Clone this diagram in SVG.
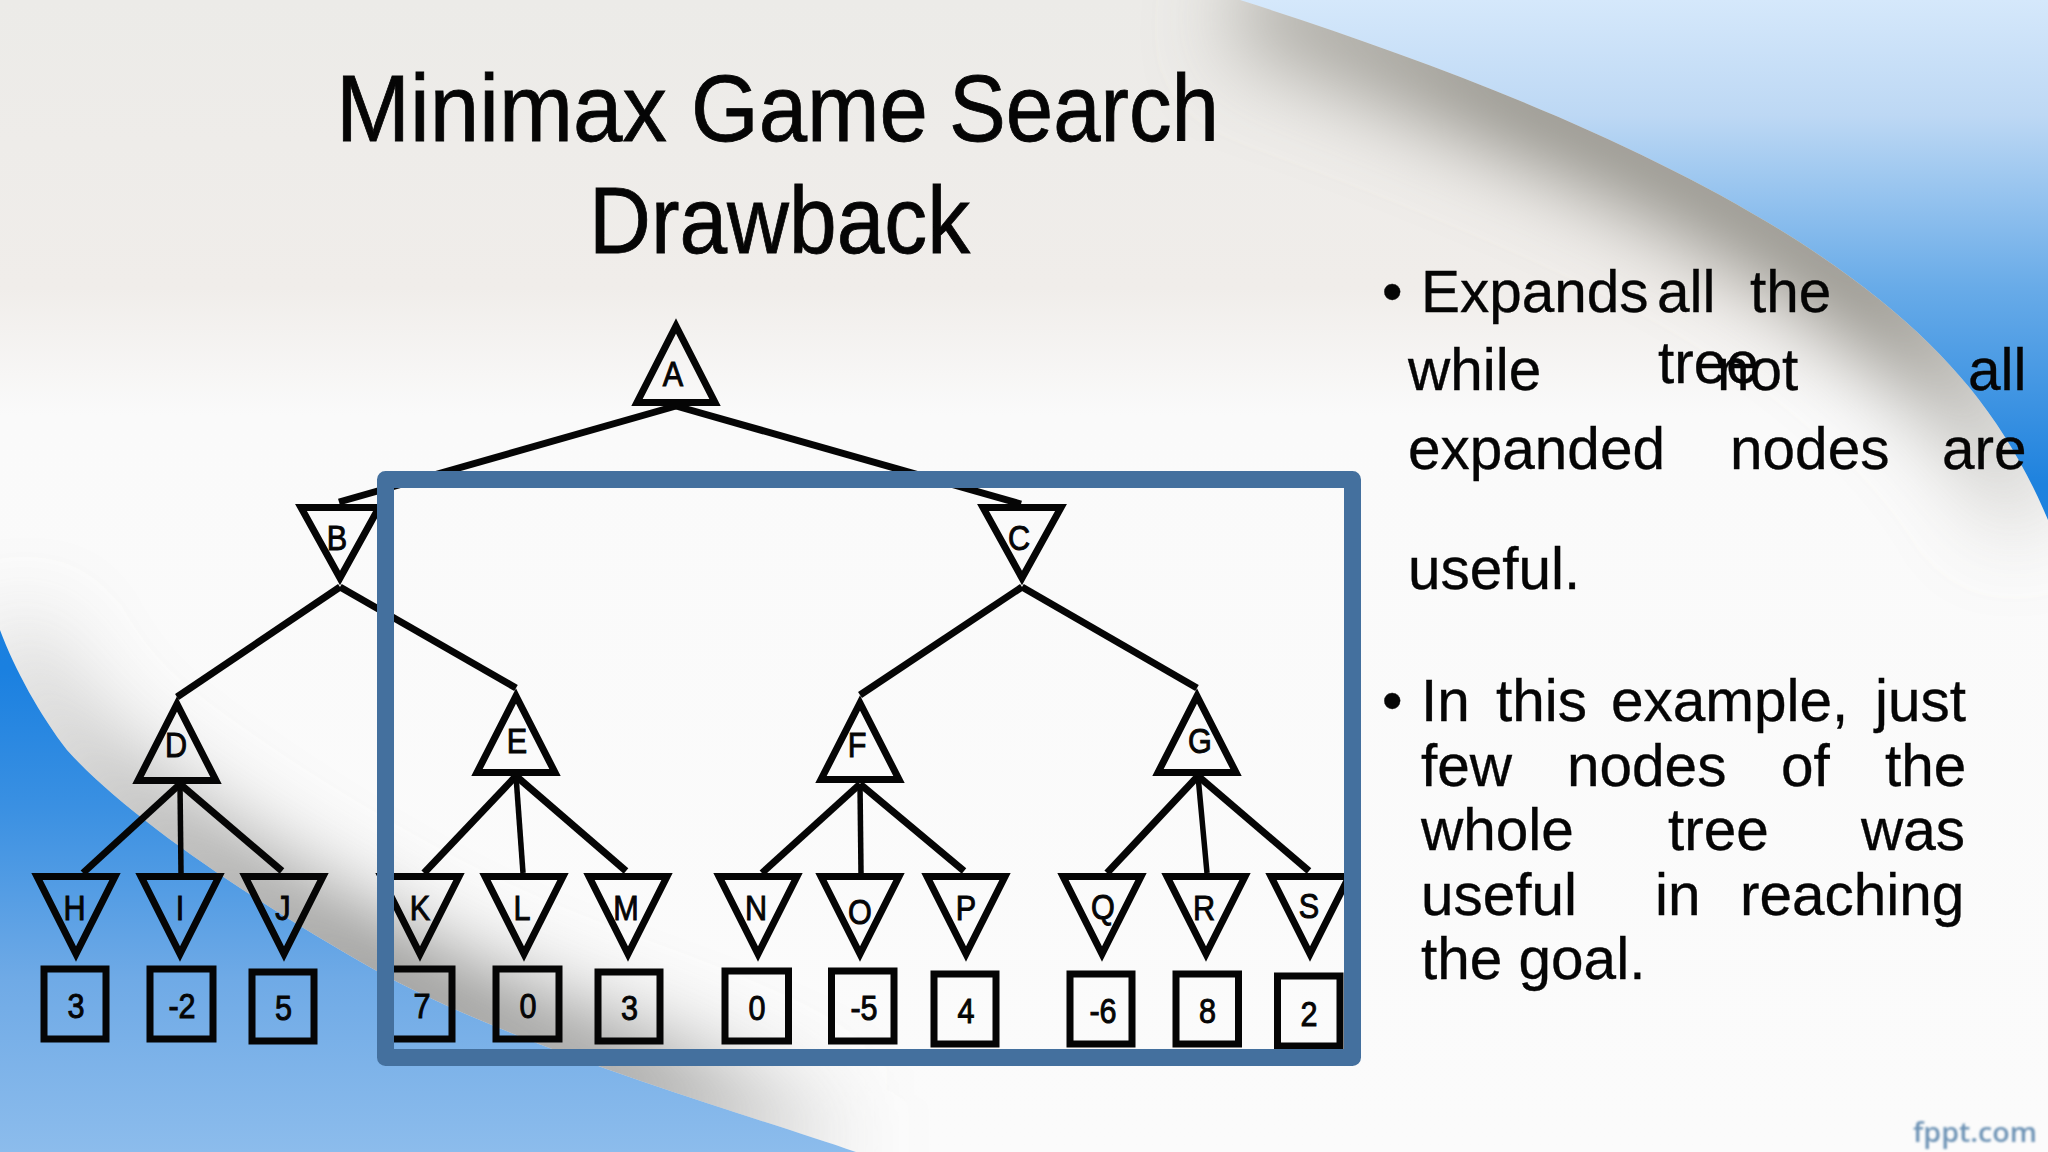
<svg xmlns="http://www.w3.org/2000/svg" xmlns:xlink="http://www.w3.org/1999/xlink" width="2048" height="1152" viewBox="0 0 2048 1152">
<style>
text{font-family:"Liberation Sans",Arial,sans-serif;fill:#050505}
.title{font-size:95px;stroke:#050505;stroke-width:.8}
.body{font-size:60px;stroke:#050505;stroke-width:.35}
.lbl{font-size:36px;text-anchor:middle;stroke:#050505;stroke-width:1}
.tri{fill:none;stroke:#050505;stroke-width:7;stroke-linejoin:miter;stroke-miterlimit:10}
.leaf{fill:none;stroke:#050505;stroke-width:7}
.edge{stroke:#050505;stroke-width:7;fill:none;stroke-linecap:butt}
.thin{stroke-width:5.500}
</style>
<defs>
<linearGradient id="sky" x1="0" y1="0" x2="0" y2="1">
<stop offset="0" stop-color="#d5e8fb"/><stop offset=".1" stop-color="#bdd8f4"/><stop offset=".25" stop-color="#68abe8"/><stop offset=".42" stop-color="#1e82de"/><stop offset=".58" stop-color="#1a80e0"/><stop offset=".7" stop-color="#3a90e2"/><stop offset=".85" stop-color="#6faae6"/><stop offset="1" stop-color="#8cbcec"/>
</linearGradient>
<linearGradient id="paper" x1="0" y1="0" x2="0" y2="1152" gradientUnits="userSpaceOnUse">
<stop offset="0" stop-color="#ecebe8"/><stop offset=".25" stop-color="#f0edea"/><stop offset=".36" stop-color="#fafafa"/><stop offset="1" stop-color="#fbfbfb"/>
</linearGradient>
<linearGradient id="shadeR" x1="1220" y1="0" x2="2048" y2="0" gradientUnits="userSpaceOnUse">
<stop offset="0" stop-color="#8f8d85" stop-opacity=".55"/><stop offset=".35" stop-color="#8f8d85" stop-opacity="1"/><stop offset=".8" stop-color="#8f8d85" stop-opacity="1"/><stop offset="1" stop-color="#8f8d85" stop-opacity=".15"/>
</linearGradient>
<linearGradient id="shadeL" x1="0" y1="0" x2="860" y2="0" gradientUnits="userSpaceOnUse">
<stop offset="0" stop-color="#8a8a88" stop-opacity=".2"/><stop offset=".2" stop-color="#8a8a88" stop-opacity=".7"/><stop offset=".45" stop-color="#8a8a88" stop-opacity="1"/><stop offset=".75" stop-color="#8a8a88" stop-opacity=".85"/><stop offset="1" stop-color="#8a8a88" stop-opacity="0"/>
</linearGradient>
<filter id="soft" x="-30%" y="-30%" width="160%" height="160%"><feGaussianBlur stdDeviation="42"/></filter>
<filter id="softer" x="-10%" y="-30%" width="120%" height="160%"><feGaussianBlur stdDeviation=".8"/></filter>
<clipPath id="paperClip"><path d="M0,0L1240,0C1460,70 1720,170 1880,300C1960,365 2010,430 2048,520L2048,1152L856,1152C750,1115 520,1050 375,970C260,905 130,820 67,750C40,715 15,670 0,630Z"/></clipPath>
<polygon id="down" class="tri" points="-39,3.500 39,3.500 0,81"/>
<polygon id="downS" class="tri" points="-39,3.500 39,3.500 0,74"/>
<polygon id="up" class="tri" points="0,8 39,84.500 -39,84.500"/>
</defs>

<g id="background">
<rect width="2048" height="1152" fill="url(#sky)"/>
<path d="M0,0L1240,0C1460,70 1720,170 1880,300C1960,365 2010,430 2048,520L2048,1152L856,1152C750,1115 520,1050 375,970C260,905 130,820 67,750C40,715 15,670 0,630Z" fill="url(#paper)"/>
<g clip-path="url(#paperClip)">
<path d="M1240,0C1460,70 1720,170 1880,300C1960,365 2010,430 2048,520" fill="none" stroke="url(#shadeR)" stroke-width="100" filter="url(#soft)"/>
<path d="M860,1152C750,1115 520,1050 375,970C260,905 130,820 67,750C40,715 15,670 0,630" fill="none" stroke="url(#shadeL)" stroke-width="90" filter="url(#soft)"/>
</g>
</g>

<g id="title">
<text class="title" x="336" y="141" textLength="331" lengthAdjust="spacingAndGlyphs">Minimax</text>
<text class="title" x="691" y="141" textLength="237" lengthAdjust="spacingAndGlyphs">Game</text>
<text class="title" x="949" y="141" textLength="270" lengthAdjust="spacingAndGlyphs">Search</text>
<text class="title" x="589" y="253" textLength="381" lengthAdjust="spacingAndGlyphs">Drawback</text>
</g>

<g id="connectors">
<path class="edge" d="M676,406L339,502"/>
<path class="edge" d="M676,406L1021,504"/>
<path class="edge" d="M340,587L177,697"/>
<path class="edge" d="M340,587L516,688"/>
<path class="edge" d="M1022,587L860,695"/>
<path class="edge" d="M1022,587L1197,688"/>
<path class="edge" d="M180,784L83,873"/>
<path class="edge thin" d="M180,784L181,873"/>
<path class="edge" d="M180,784L282,871"/>
<path class="edge" d="M516,776L424,873"/>
<path class="edge thin" d="M516,776L523,873"/>
<path class="edge" d="M516,776L626,871"/>
<path class="edge" d="M860,784L762,873"/>
<path class="edge thin" d="M860,784L861,873"/>
<path class="edge" d="M860,784L964,871"/>
<path class="edge" d="M1198,776L1107,873"/>
<path class="edge thin" d="M1198,776L1207,873"/>
<path class="edge" d="M1198,776L1309,871"/>
</g>

<g id="node-A"><use xlink:href="#up" href="#up" x="676" y="318"/><text class="lbl" transform="matrix(.85 0 0 1 673 386)">A</text></g>
<g id="node-B"><use xlink:href="#downS" href="#downS" x="340" y="504"/><text class="lbl" transform="matrix(.85 0 0 1 337 550)">B</text></g>
<g id="node-C"><use xlink:href="#downS" href="#downS" x="1022" y="504"/><text class="lbl" transform="matrix(.85 0 0 1 1019 550)">C</text></g>
<g id="node-D"><use xlink:href="#up" href="#up" x="177" y="696"/><text class="lbl" transform="matrix(.85 0 0 1 176 757)">D</text></g>
<g id="node-E"><use xlink:href="#up" href="#up" x="516" y="688"/><text class="lbl" transform="matrix(.85 0 0 1 517 753)">E</text></g>
<g id="node-F"><use xlink:href="#up" href="#up" x="860" y="695"/><text class="lbl" transform="matrix(.85 0 0 1 857 757)">F</text></g>
<g id="node-G"><use xlink:href="#up" href="#up" x="1197" y="688"/><text class="lbl" transform="matrix(.85 0 0 1 1200 753)">G</text></g>

<g id="node-H"><use xlink:href="#down" href="#down" x="76" y="873"/><text class="lbl" transform="matrix(.85 0 0 1 74.500 920)">H</text></g>
<g id="node-I"><use xlink:href="#down" href="#down" x="180" y="873"/><text class="lbl" transform="matrix(.85 0 0 1 180 920)">I</text></g>
<g id="node-J"><use xlink:href="#down" href="#down" x="284" y="873"/><text class="lbl" transform="matrix(.85 0 0 1 283 920)">J</text></g>
<g id="node-K"><use xlink:href="#down" href="#down" x="420" y="873"/><text class="lbl" transform="matrix(.85 0 0 1 420 920)">K</text></g>
<g id="node-L"><use xlink:href="#down" href="#down" x="524" y="873"/><text class="lbl" transform="matrix(.85 0 0 1 522 920)">L</text></g>
<g id="node-M"><use xlink:href="#down" href="#down" x="628" y="873"/><text class="lbl" transform="matrix(.85 0 0 1 626 920)">M</text></g>
<g id="node-N"><use xlink:href="#down" href="#down" x="758" y="873"/><text class="lbl" transform="matrix(.85 0 0 1 756 920)">N</text></g>
<g id="node-O"><use xlink:href="#down" href="#down" x="860" y="873"/><text class="lbl" transform="matrix(.85 0 0 1 860 924)">O</text></g>
<g id="node-P"><use xlink:href="#down" href="#down" x="966" y="873"/><text class="lbl" transform="matrix(.85 0 0 1 966 920)">P</text></g>
<g id="node-Q"><use xlink:href="#down" href="#down" x="1102" y="873"/><text class="lbl" transform="matrix(.85 0 0 1 1103 919)">Q</text></g>
<g id="node-R"><use xlink:href="#down" href="#down" x="1206" y="873"/><text class="lbl" transform="matrix(.85 0 0 1 1204 920)">R</text></g>
<g id="node-S"><use xlink:href="#down" href="#down" x="1310" y="873"/><text class="lbl" transform="matrix(.85 0 0 1 1309 918)">S</text></g>

<g id="leaf-H"><rect class="leaf" x="44" y="969" width="62" height="70"/><text class="lbl" transform="matrix(.85 0 0 1 76 1018)">3</text></g>
<g id="leaf-I"><rect class="leaf" x="150" y="969" width="63" height="70"/><text class="lbl" transform="matrix(.85 0 0 1 182 1018)">-2</text></g>
<g id="leaf-J"><rect class="leaf" x="252" y="972" width="62" height="69"/><text class="lbl" transform="matrix(.85 0 0 1 283.500 1020)">5</text></g>
<g id="leaf-K"><rect class="leaf" x="390" y="969" width="62" height="70"/><text class="lbl" transform="matrix(.85 0 0 1 422 1018)">7</text></g>
<g id="leaf-L"><rect class="leaf" x="496" y="969" width="63" height="70"/><text class="lbl" transform="matrix(.85 0 0 1 528 1018)">0</text></g>
<g id="leaf-M"><rect class="leaf" x="598" y="972" width="62" height="69"/><text class="lbl" transform="matrix(.85 0 0 1 629.500 1020)">3</text></g>
<g id="leaf-N"><rect class="leaf" x="725" y="971" width="63.500" height="70"/><text class="lbl" transform="matrix(.85 0 0 1 757 1020)">0</text></g>
<g id="leaf-O"><rect class="leaf" x="831.500" y="971" width="62.500" height="70"/><text class="lbl" transform="matrix(.85 0 0 1 864 1020)">-5</text></g>
<g id="leaf-P"><rect class="leaf" x="934" y="974" width="62" height="70"/><text class="lbl" transform="matrix(.85 0 0 1 966 1023)">4</text></g>
<g id="leaf-Q"><rect class="leaf" x="1070" y="974" width="62" height="70"/><text class="lbl" transform="matrix(.85 0 0 1 1103 1023)">-6</text></g>
<g id="leaf-R"><rect class="leaf" x="1176" y="974" width="62.500" height="70"/><text class="lbl" transform="matrix(.85 0 0 1 1207.500 1023)">8</text></g>
<g id="leaf-S"><rect class="leaf" x="1277.500" y="976" width="62.500" height="70"/><text class="lbl" transform="matrix(.85 0 0 1 1309 1026)">2</text></g>

<rect id="frame" x="385.500" y="479.500" width="967" height="578" fill="none" stroke="#44709e" stroke-width="17" stroke-linejoin="round"/>

<g id="bullets-one" transform="scale(.975 1)">
<text class="body" x="1417.400" y="312">•</text>
<text class="body" y="312"><tspan x="1457.400">Expands</tspan><tspan x="1699.500">all</tspan><tspan x="1794.900">the</tspan></text>
<text class="body" x="1700.500" y="383">tree</text>
<text class="body" y="390"><tspan x="1444.100">while</tspan><tspan x="1761">not</tspan><tspan x="2018.500">all</tspan></text>
<text class="body" y="469"><tspan x="1444.100">expanded</tspan><tspan x="1774.400">nodes</tspan><tspan x="1991.800">are</tspan></text>
<text class="body" x="1444.100" y="589">useful.</text>
</g>
<g id="bullets-two" transform="scale(.975 1)">
<text class="body" x="1417.400" y="721">•</text>
<text class="body" y="721"><tspan x="1457.400">In</tspan><tspan x="1534.400">this</tspan><tspan x="1652.300">example,</tspan><tspan x="1923">just</tspan></text>
<text class="body" y="786"><tspan x="1457.400">few</tspan><tspan x="1607.200">nodes</tspan><tspan x="1826.700">of</tspan><tspan x="1933.300">the</tspan></text>
<text class="body" y="850"><tspan x="1457.400">whole</tspan><tspan x="1710.800">tree</tspan><tspan x="1908.700">was</tspan></text>
<text class="body" y="915"><tspan x="1457.400">useful</tspan><tspan x="1697.400">in</tspan><tspan x="1784.600">reaching</tspan></text>
<text class="body" x="1457.400" y="979">the goal.</text>
</g>

<text id="brand" x="1913" y="1142" textLength="124" lengthAdjust="spacingAndGlyphs" filter="url(#softer)" style="font-family:'Open Sans',sans-serif;font-size:27px;font-weight:600;fill:#6d93b5">fppt.com</text>
</svg>
